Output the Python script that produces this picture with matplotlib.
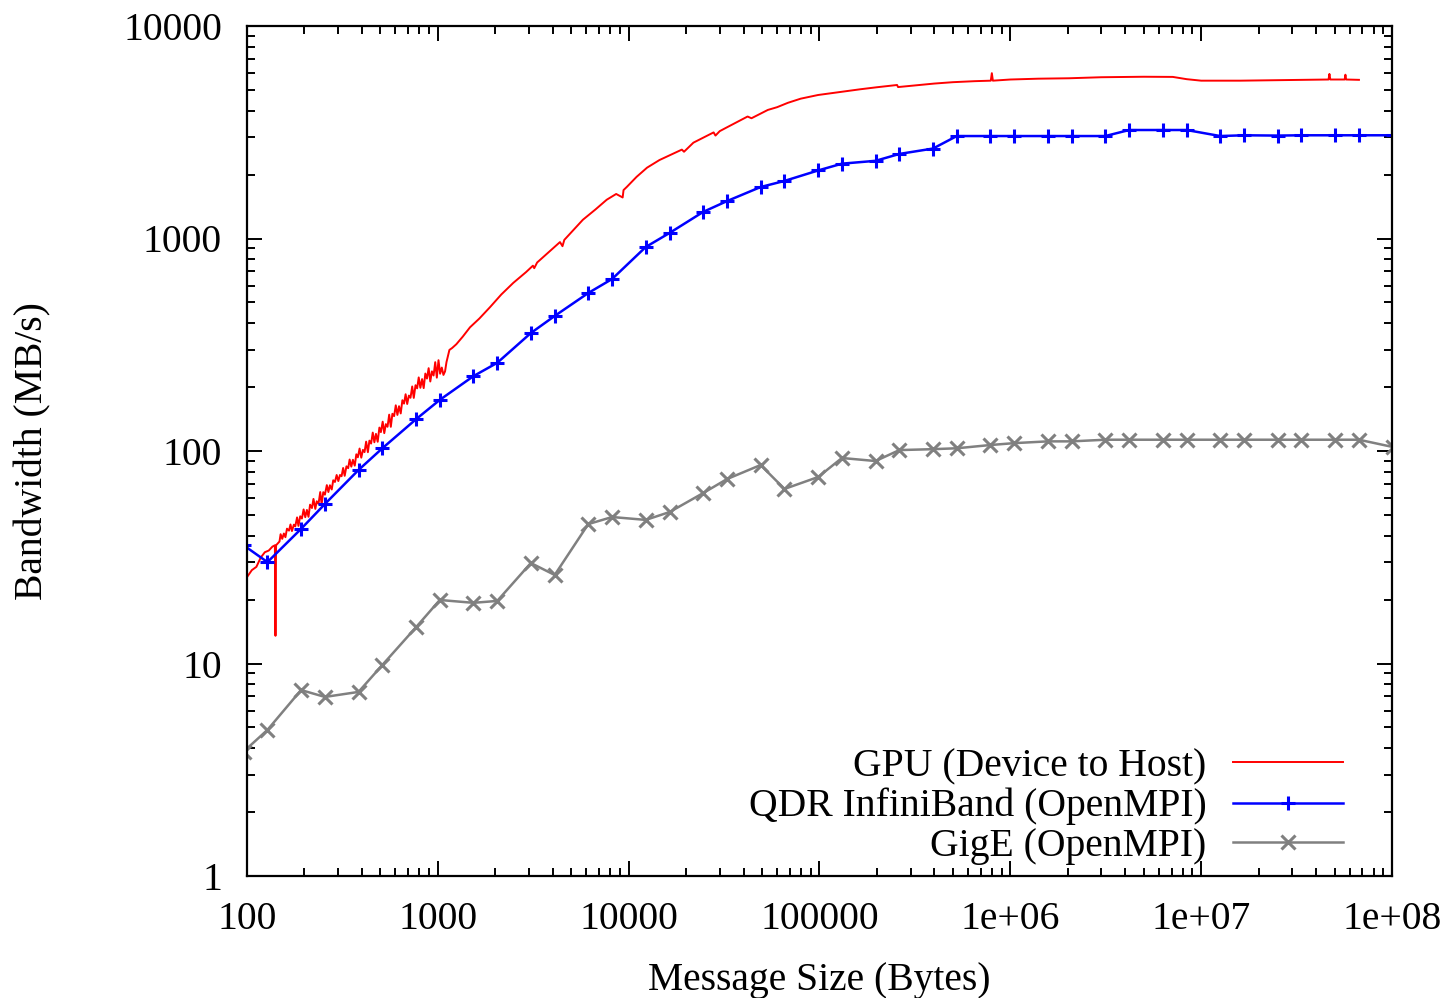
import matplotlib

matplotlib.use("Agg")
import matplotlib.pyplot as plt
from matplotlib.ticker import FixedLocator, FuncFormatter, LogLocator, NullFormatter

plt.rcParams["font.family"] = ["Liberation Serif", "DejaVu Serif"]

gpu_size = [100, 106, 112, 118, 124, 130, 136, 140, 141, 142, 148,
            150, 153, 156, 159, 162, 166, 169, 172, 176, 179, 183, 186, 190, 194,
            198, 202, 206, 210, 214, 219, 223, 228, 232, 237, 242, 246, 251, 256,
            262, 267, 272, 278, 283, 289, 295, 301, 307, 313, 319, 325, 332, 339,
            345, 352, 359, 367, 374, 381, 389, 397, 405, 413, 421, 430, 438, 447,
            456, 465, 474, 484, 494, 503, 514, 524, 534, 545, 556, 567, 578, 590,
            602, 614, 626, 639, 652, 665, 678, 691, 705, 719, 734, 748, 764, 779,
            794, 810, 827, 843, 860, 877, 895, 913, 931, 950, 969, 988, 1008, 1028,
            1049, 1070, 1091, 1110, 1150, 1187, 1250, 1350,
            1474, 1650, 1876, 2150, 2484, 2900, 3150, 3200, 3314, 3800, 4366, 4500,
            4600, 5754, 6700, 7673, 8600, 9300, 9400, 9787, 11000, 12480, 14500,
            17120, 19000, 19500, 21840, 27870, 28500, 30000, 32000, 38640, 42000,
            44000, 53600, 60000, 68270, 79700, 98304, 130000, 163000, 200000,
            255000, 258000, 320000, 400000, 500000, 650000, 790000, 800000, 810000,
            1000000, 1400000, 2030000, 3000000, 5000000, 7100000, 8400000,
            10000000, 16000000, 25000000, 40000000, 46500000, 47000000, 47500000,
            56500000, 57000000, 57500000, 67108864]
gpu_bw = [25.5, 27.5, 28.5, 31.5, 33.4, 34, 35.5, 36, 13.5, 36, 37.5,
          40.6, 38.6, 40.9, 39.3, 43.1, 42.2, 45.1, 42.0, 45.0, 44.2, 48.7, 44.4, 49.3, 48.1,
          53.1, 48.8, 52.8, 49.0, 55.9, 53.9, 59.5, 53.4, 58.0, 56.4, 64.1, 56.1, 64.0, 62.3,
          69.1, 64.1, 69.0, 65.9, 72.8, 71.5, 77.1, 72.2, 77.1, 76.1, 83.2, 76.4, 84.7, 83.0,
          91.2, 84.4, 90.9, 85.3, 96.5, 93.4, 102.7, 93.0, 101.2, 98.8, 110.7, 98.7, 111.9, 108.4,
          122.1, 109.9, 120.4, 110.5, 128.9, 122.7, 137.4, 121.3, 133.8, 130.0, 148.3, 129.9, 149.7, 145.9,
          164.1, 147.8, 162.5, 150.2, 173.4, 167.1, 185.0, 166.4, 182.3, 178.0, 201.3, 177.7, 204.0, 197.2,
          222.0, 198.3, 218.0, 197.6, 231.5, 219.2, 245.4, 212.3, 237.0, 226.6, 261.8, 221.4, 267.5, 231,
          247, 228, 237, 262, 299, 305, 318, 345,
          382, 420, 475, 545, 618, 695, 745, 725, 771, 860, 962, 920,
          985, 1225, 1370, 1522, 1620, 1560, 1690, 1750, 1950, 2154, 2340,
          2507, 2620, 2560, 2825, 3157, 3050, 3200, 3300, 3603, 3750,
          3680, 4027, 4150, 4350, 4550, 4735, 4900, 5036, 5150,
          5277, 5160, 5260, 5360, 5440, 5500, 5530, 6000, 5530,
          5600, 5650, 5676, 5740, 5770, 5760, 5620,
          5530, 5530, 5560, 5590, 5600, 5950, 5600,
          5600, 5900, 5600, 5580]

# QDR InfiniBand (OpenMPI)
ib_size = [96, 128, 192, 256, 384, 512, 768, 1024, 1536, 2048, 3072, 4096, 6144,
           8192, 12288, 16384, 24576, 32768, 49152, 65536, 98304, 131072, 196608,
           262144, 393216, 524288, 786432, 1048576, 1572864, 2097152, 3145728,
           4194304, 6291456, 8388608, 12582912, 16777216, 25165824, 33554432,
           50331648, 67108864, 100663296]
ib_bw = [36, 30, 43, 56.3, 81.4, 103, 141, 174, 225, 260, 359, 432, 554,
         645, 912, 1062, 1334, 1500, 1747, 1866, 2090, 2250, 2320,
         2500, 2650, 3035, 3035, 3035, 3035, 3035, 3035,
         3240, 3240, 3240, 3035, 3060, 3050, 3060,
         3060, 3060, 3060]

# GigE (OpenMPI)
gige_size = ib_size
gige_bw = [3.85, 4.87, 7.5, 6.96, 7.35, 9.84, 14.8, 19.9, 19.3, 19.7, 29.7, 26.1, 45.3,
           48.9, 47.4, 51.6, 63.4, 73.8, 85.9, 66.3, 75.4, 92.7, 89.7,
           101, 102, 103, 106.7, 108.9, 111, 111, 113,
           113, 113, 113, 113, 113, 113, 113,
           113, 113, 104.5]

XTICKS = [1e2, 1e3, 1e4, 1e5, 1e6, 1e7, 1e8]
XTICKLABELS = ["100", "1000", "10000", "100000", "1e+06", "1e+07", "1e+08"]
YTICKS = [1, 10, 100, 1000, 10000]
YTICKLABELS = ["1", "10", "100", "1000", "10000"]

FS = 28.5
fig = plt.figure(figsize=(14.54, 9.98), dpi=100)
ax = fig.add_axes([247 / 1454, 1 - 876 / 998, (1392 - 247) / 1454, (876 - 26) / 998])

ax.plot(gpu_size, gpu_bw, color="#ff0000", lw=1.4, label="GPU (Device to Host)")
ax.plot(ib_size, ib_bw, color="#0000ff", lw=1.8, marker="+", ms=10, mew=2.2,
        label="QDR InfiniBand (OpenMPI)")
ax.plot(gige_size, gige_bw, color="#808080", lw=1.8, marker="x", ms=10, mew=2.2,
        label="GigE (OpenMPI)")

ax.set_xscale("log")
ax.set_yscale("log")
ax.set_xlim(1e2, 1e8)
ax.set_ylim(1, 1e4)

ax.xaxis.set_major_locator(FixedLocator(XTICKS))
ax.xaxis.set_major_formatter(FuncFormatter(lambda v, p: XTICKLABELS[XTICKS.index(v)] if v in XTICKS else ""))
ax.yaxis.set_major_locator(FixedLocator(YTICKS))
ax.yaxis.set_major_formatter(FuncFormatter(lambda v, p: YTICKLABELS[YTICKS.index(v)] if v in YTICKS else ""))
for a in (ax.xaxis, ax.yaxis):
    a.set_minor_locator(LogLocator(base=10, subs=range(2, 10), numticks=20))
    a.set_minor_formatter(NullFormatter())

ax.tick_params(which="both", direction="in", top=True, right=True, width=1.4)
ax.tick_params(which="major", length=11, labelsize=FS, pad=18)
ax.tick_params(which="minor", length=6)
for s in ax.spines.values():
    s.set_linewidth(1.6)

ax.set_xlabel("Message Size (Bytes)", fontsize=FS)
ax.set_ylabel("Bandwidth (MB/s)", fontsize=FS)
ax.xaxis.set_label_coords(0.5, -0.101)
ax.yaxis.set_label_coords(-0.171, 0.5)

ax.legend(loc="lower right", bbox_to_anchor=(0.957, 0.013), frameon=False,
          fontsize=FS, markerfirst=False, numpoints=1, handlelength=2.78,
          handletextpad=0.66, labelspacing=0.065, borderpad=0, borderaxespad=0)

fig.savefig("out.png", dpi=100)
